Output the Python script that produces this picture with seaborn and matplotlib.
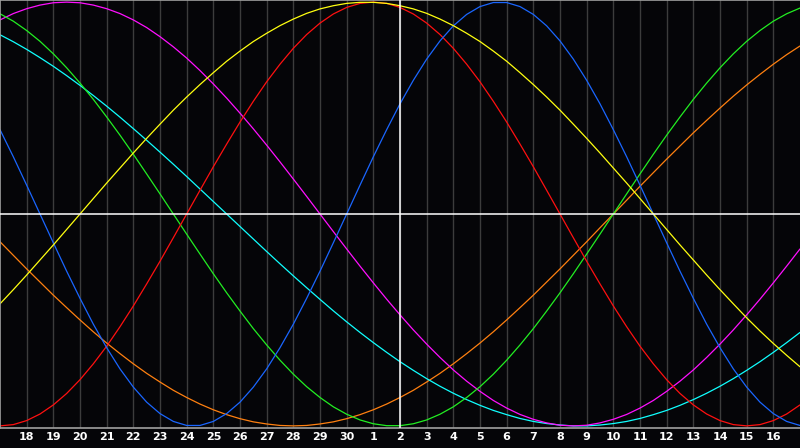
import matplotlib
matplotlib.use("Agg")
import matplotlib.pyplot as plt
import seaborn as sns
import pandas as pd

# Days relative to today (today = the 2nd), sampled every half day
days = [h / 2 for h in range(-30, 31)]
tick_pos = list(range(-14, 15))
tick_labels = ["18", "19", "20", "21", "22", "23", "24", "25", "26", "27", "28", "29", "30",
               "1", "2", "3", "4", "5", "6", "7", "8", "9", "10", "11", "12", "13", "14", "15", "16"]

physical = [0.398, 0.270, 0.136, 0.000, -0.136, -0.270, -0.398, -0.520, -0.631, -0.731,
            -0.817, -0.888, -0.942, -0.979, -0.998, -0.998, -0.979, -0.942, -0.888, -0.817,
            -0.731, -0.631, -0.520, -0.398, -0.270, -0.136, 0.000, 0.136, 0.270, 0.398,
            0.520, 0.631, 0.731, 0.817, 0.888, 0.942, 0.979, 0.998, 0.998, 0.979,
            0.942, 0.888, 0.817, 0.731, 0.631, 0.520, 0.398, 0.270, 0.136, 0.000,
            -0.136, -0.270, -0.398, -0.520, -0.631, -0.731, -0.817, -0.888, -0.942, -0.979,
            -0.998]
emotional = [-1.000, -0.994, -0.975, -0.944, -0.901, -0.847, -0.782, -0.707, -0.624, -0.532,
             -0.434, -0.330, -0.223, -0.112, 0.000, 0.112, 0.223, 0.330, 0.434, 0.532,
             0.624, 0.707, 0.782, 0.847, 0.901, 0.944, 0.975, 0.994, 1.000, 0.994,
             0.975, 0.944, 0.901, 0.847, 0.782, 0.707, 0.624, 0.532, 0.434, 0.330,
             0.223, 0.112, 0.000, -0.112, -0.223, -0.330, -0.434, -0.532, -0.624, -0.707,
             -0.782, -0.847, -0.901, -0.944, -0.975, -0.994, -1.000, -0.994, -0.975, -0.944,
             -0.901]
intellectual = [0.945, 0.910, 0.866, 0.815, 0.756, 0.690, 0.618, 0.541, 0.458, 0.372,
                0.282, 0.189, 0.095, 0.000, -0.095, -0.189, -0.282, -0.372, -0.458, -0.541,
                -0.618, -0.690, -0.756, -0.815, -0.866, -0.910, -0.945, -0.972, -0.990, -0.999,
                -0.999, -0.990, -0.972, -0.945, -0.910, -0.866, -0.815, -0.756, -0.690, -0.618,
                -0.541, -0.458, -0.372, -0.282, -0.189, -0.095, 0.000, 0.095, 0.189, 0.282,
                0.372, 0.458, 0.541, 0.618, 0.690, 0.756, 0.815, 0.866, 0.910, 0.945,
                0.972]
intuitive = [0.916, 0.946, 0.969, 0.986, 0.997, 1.000, 0.997, 0.986, 0.969, 0.946,
             0.916, 0.880, 0.837, 0.789, 0.736, 0.677, 0.614, 0.547, 0.476, 0.402,
             0.325, 0.246, 0.165, 0.083, 0.000, -0.083, -0.165, -0.246, -0.325, -0.402,
             -0.476, -0.547, -0.614, -0.677, -0.736, -0.789, -0.837, -0.880, -0.916, -0.946,
             -0.969, -0.986, -0.997, -1.000, -0.997, -0.986, -0.969, -0.946, -0.916, -0.880,
             -0.837, -0.789, -0.736, -0.677, -0.614, -0.547, -0.476, -0.402, -0.325, -0.246,
             -0.165]
aesthetic = [-0.424, -0.357, -0.288, -0.217, -0.146, -0.073, 0.000, 0.073, 0.146, 0.217,
             0.288, 0.357, 0.424, 0.490, 0.552, 0.611, 0.667, 0.721, 0.769, 0.814,
             0.853, 0.889, 0.920, 0.947, 0.968, 0.983, 0.994, 0.999, 0.999, 0.994,
             0.983, 0.968, 0.947, 0.920, 0.889, 0.853, 0.814, 0.769, 0.721, 0.667,
             0.611, 0.552, 0.490, 0.424, 0.357, 0.288, 0.217, 0.146, 0.073, 0.000,
             -0.073, -0.146, -0.217, -0.288, -0.357, -0.424, -0.490, -0.552, -0.611, -0.667,
             -0.721]
awareness = [-0.131, -0.195, -0.259, -0.321, -0.383, -0.442, -0.500, -0.556, -0.609, -0.659,
             -0.707, -0.752, -0.793, -0.832, -0.866, -0.897, -0.924, -0.947, -0.966, -0.981,
             -0.991, -0.998, -1.000, -0.998, -0.991, -0.981, -0.966, -0.947, -0.924, -0.897,
             -0.866, -0.832, -0.793, -0.752, -0.707, -0.659, -0.609, -0.556, -0.500, -0.442,
             -0.383, -0.321, -0.259, -0.195, -0.131, -0.065, 0.000, 0.065, 0.131, 0.195,
             0.259, 0.321, 0.383, 0.442, 0.500, 0.556, 0.609, 0.659, 0.707, 0.752,
             0.793]
spiritual = [0.846, 0.813, 0.777, 0.738, 0.697, 0.653, 0.607, 0.559, 0.509, 0.457,
             0.403, 0.348, 0.292, 0.235, 0.177, 0.118, 0.059, 0.000, -0.059, -0.118,
             -0.177, -0.235, -0.292, -0.348, -0.403, -0.457, -0.509, -0.559, -0.607, -0.653,
             -0.697, -0.738, -0.777, -0.813, -0.846, -0.876, -0.903, -0.927, -0.947, -0.965,
             -0.979, -0.989, -0.996, -1.000, -1.000, -0.996, -0.989, -0.979, -0.965, -0.947,
             -0.927, -0.903, -0.876, -0.846, -0.813, -0.777, -0.738, -0.697, -0.653, -0.607,
             -0.559]

series = {
    "awareness": awareness,
    "spiritual": spiritual,
    "intuitive": intuitive,
    "intellectual": intellectual,
    "emotional": emotional,
    "physical": physical,
    "aesthetic": aesthetic,
}
palette = {
    "physical": "#1a66ff",
    "emotional": "#ff1010",
    "intellectual": "#22ee22",
    "intuitive": "#ff10ff",
    "aesthetic": "#ffff10",
    "awareness": "#ff8010",
    "spiritual": "#10ffff",
}

rows = []
for name, vals in series.items():
    for d, v in zip(days, vals):
        rows.append({"day": d, "value": v, "cycle": name})
df = pd.DataFrame(rows)

sns.set_style("dark")
bg = "#050508"
fig = plt.figure(figsize=(8, 4.48), dpi=100, facecolor=bg)
ax = fig.add_axes([0, 20 / 448, 1, 428 / 448])
ax.set_facecolor(bg)

# day grid
for p in tick_pos:
    ax.axvline(p, color="#3c3c3c", lw=1.0, zorder=0)

sns.lineplot(data=df, x="day", y="value", hue="cycle", palette=palette,
             hue_order=list(series.keys()), ax=ax, legend=False, lw=0.9,
             estimator=None, sort=True)

ax.axhline(0, color="white", lw=1.1, zorder=5)
ax.axvline(0, color="white", lw=1.1, zorder=5)

ax.set_xlim(-15, 15)
ax.set_ylim(-1.01, 1.01)
ax.set_xticks(tick_pos)
ax.set_xticklabels(tick_labels)
ax.set_yticks([])
ax.set_xlabel("")
ax.set_ylabel("")
ax.tick_params(axis="x", length=0, pad=3, colors="white", labelsize=8)
for lab in ax.get_xticklabels():
    lab.set_fontweight("bold")
ax.grid(False)
for side in ["left", "top", "bottom"]:
    ax.spines[side].set_visible(True)
    ax.spines[side].set_color("#a0a0a0")
    ax.spines[side].set_linewidth(1.2)
ax.spines["right"].set_visible(False)

fig.savefig("out.png", dpi=100, facecolor=bg)
